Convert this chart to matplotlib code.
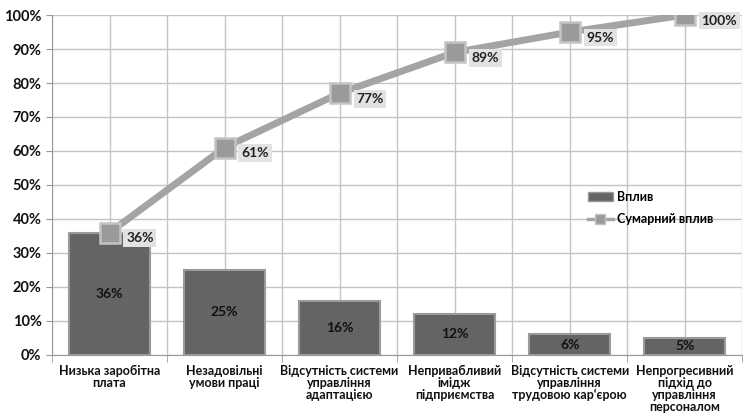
import matplotlib
matplotlib.use("Agg")
import matplotlib.pyplot as plt
from matplotlib.ticker import MultipleLocator, FuncFormatter
from matplotlib.lines import Line2D
from matplotlib.patches import Patch

categories = ["Низька заробітна\nплата", "Незадовільні\nумови праці",
              "Відсутність системи\nуправління\nадаптацією", "Непривабливий\nімідж\nпідприємства",
              "Відсутність системи\nуправління\nтрудовою кар‘єрою", "Непрогресивний\nпідхід до\nуправління\nперсоналом"]
impact = [36, 25, 16, 12, 6, 5]
cumulative = [36, 61, 77, 89, 95, 100]

plt.rcParams['font.family'] = ['Lato', 'DejaVu Sans']
fig = plt.figure(figsize=(7.43, 4.18), dpi=100)
ax = fig.add_axes([0.070, 0.151, 0.929, 0.813])

x = list(range(len(categories)))
ax.bar(x, impact, width=0.7, color='#646464', edgecolor='#9a9a9a', linewidth=1.5, zorder=3,
       label='Вплив')
for xi, v in zip(x, impact):
    ax.text(xi, v / 2, f"{v}%", ha='center', va='center', fontsize=10, fontweight='bold',
            color='#111111', zorder=5)

ax.plot(x, cumulative, color='#a4a4a4', linewidth=5, marker='s', markersize=14,
        markerfacecolor='#9a9a9a', markeredgecolor='#c4c4c4', markeredgewidth=1.8, zorder=4,
        label='Сумарний вплив')
for xi, v in zip(x, cumulative):
    ax.annotate(f"{v}%", (xi, v), xytext=(12, -4), textcoords='offset points', ha='left', va='center',
                fontsize=10, fontweight='bold', color='#222222', zorder=6,
                bbox=dict(boxstyle='square,pad=0.2', facecolor='#e2e2e2', edgecolor='none'))

ax.set_xlim(-0.5, 5.5)
ax.set_ylim(0, 100)
ax.yaxis.set_major_locator(MultipleLocator(10))
ax.yaxis.set_major_formatter(FuncFormatter(lambda v, p: f"{int(v)}%"))
ax.set_xticks(x)
ax.set_xticklabels(categories, fontsize=9, fontweight='bold', color='#111111', linespacing=1.0)
ax.set_xticks([i + 0.5 for i in range(-1, 6)], minor=True)
ax.tick_params(axis='x', which='major', length=0, pad=7)
ax.tick_params(axis='x', which='minor', length=5, color='#999999')
ax.tick_params(axis='y', length=4, color='#999999', labelsize=10.5)
for lab in ax.get_yticklabels():
    lab.set_fontweight('bold')
    lab.set_color('#111111')

ax.grid(True, which='major', axis='y', color='#c4c4c4', linewidth=1, zorder=0)
ax.grid(True, which='both', axis='x', color='#c4c4c4', linewidth=1, zorder=0)
for s in ['top', 'right']:
    ax.spines[s].set_visible(False)
for s in ['left', 'bottom']:
    ax.spines[s].set_color('#999999')

handles = [Patch(facecolor='#646464', edgecolor='#9a9a9a', label='Вплив'),
           Line2D([0], [0], color='#a4a4a4', linewidth=2.5, marker='s', markersize=7,
                  markerfacecolor='#9a9a9a', markeredgecolor='#c4c4c4', label='Сумарний вплив')]
ax.legend(handles=handles, loc='upper left', bbox_to_anchor=(0.76, 0.515), frameon=False,
          prop={'weight': 'bold', 'size': 9}, handlelength=2, handletextpad=0.3,
          labelspacing=0.8)

fig.savefig('out.png', dpi=100)
